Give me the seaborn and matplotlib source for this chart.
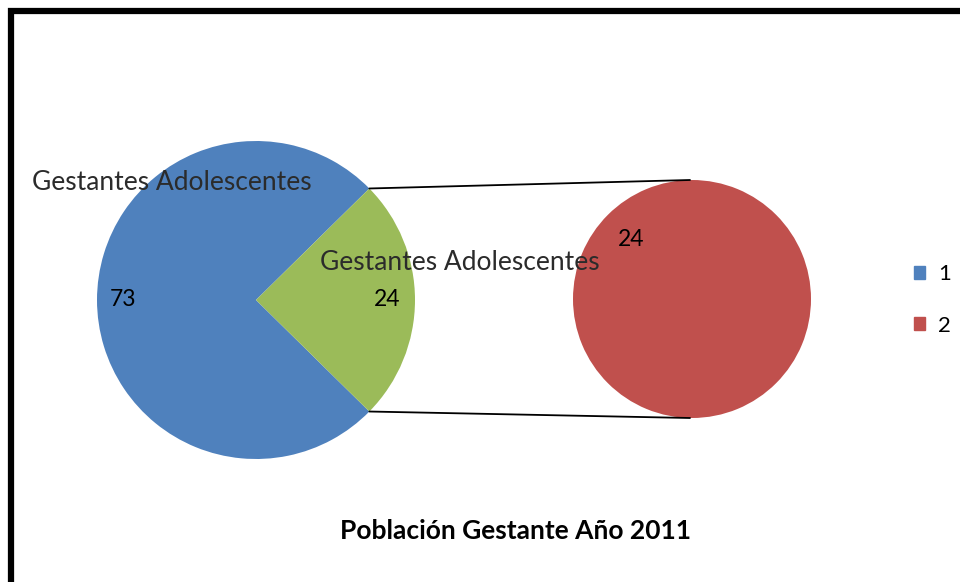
import matplotlib
matplotlib.use("Agg")
import matplotlib.pyplot as plt
import numpy as np
import seaborn as sns
from matplotlib.patches import Patch

# data
main_labels = ["1", "Otros"]
main_values = [73, 24]
sub_labels = ["2"]
sub_values = [24]
slice_name = "Gestantes Adolescentes"
title = "Población Gestante Año 2011"

sns.set_theme(style="white")
plt.rcParams["font.family"] = ["Lato", "DejaVu Sans"]
plt.rcParams["text.color"] = "black"
palette = sns.color_palette(["#4F81BD", "#9BBB59", "#C0504D"])

W, H = 960, 582
fig = plt.figure(figsize=(W / 100, H / 100), dpi=100)
ax = fig.add_axes([0, 0, 1, 1])

# main pie: "other" slice centred on the right
c1, r1 = (256, H - 300), 159
c2, r2 = (692, H - 299), 119
half = 180 * main_values[1] / sum(main_values)
ax.pie(main_values, colors=[palette[0], palette[1]], startangle=half,
       center=c1, radius=r1, frame=True,
       wedgeprops=dict(linewidth=0))
ax.pie(sub_values, colors=[palette[2]], startangle=90,
       center=c2, radius=r2, frame=True,
       wedgeprops=dict(linewidth=0))
ax.set_xlim(0, W)
ax.set_ylim(0, H)
ax.set_aspect("equal")
ax.axis("off")

# connector lines
a = np.radians(half)
for s in (1, -1):
    x0 = c1[0] + r1 * np.cos(a)
    y0 = c1[1] + s * r1 * np.sin(a)
    ax.plot([x0, c2[0] - 2], [y0, c2[1] + s * r2], color="black", lw=1.3)

# data labels
ax.text(123, H - 300, str(main_values[0]), fontsize=16.5, ha="center", va="center")
ax.text(387, H - 300, str(main_values[1]), fontsize=16.5, ha="center", va="center")
ax.text(631, H - 240, str(sub_values[0]), fontsize=16.5, ha="center", va="center")
ax.text(32, H - 183, slice_name, fontsize=19, color="#2b2b2b", ha="left", va="center")
ax.text(320, H - 263, slice_name, fontsize=19, color="#2b2b2b", ha="left", va="center")

ax.text(515, H - 531, title, fontsize=19, fontweight="bold",
        ha="center", va="center")

handles = [Patch(color=palette[0], label=main_labels[0]),
           Patch(color=palette[2], label=sub_labels[0])]
fig.legend(handles=handles, loc="center left", bbox_to_anchor=(894 / W, 1 - 300 / H),
           frameon=False, fontsize=16, handlelength=0.5, handleheight=0.5,
           handletextpad=0.6, labelspacing=1.4)

# chart frame
frame = plt.Rectangle((11, -20), 1000, H - 11 + 20, fill=False, lw=4.5, ec="black")
ax.add_patch(frame)

fig.savefig("out.png", dpi=100)
